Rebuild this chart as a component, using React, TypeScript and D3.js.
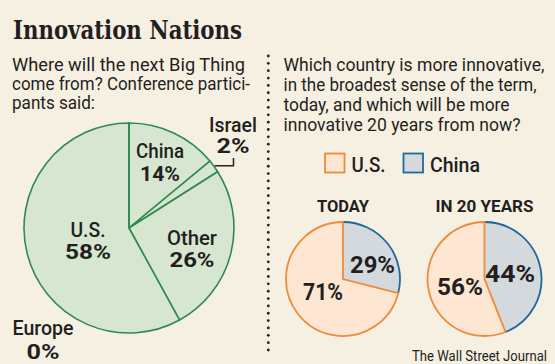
import React from 'react'
import * as d3 from 'd3'

// survey: where will the next big thing come from
const nextCategories = ['China', 'Israel', 'Other', 'U.S.', 'Europe']
const nextValues = [14, 2, 26, 58, 0]

// which country is more innovative
const compareCountries = ['China', 'U.S.']
const todayValues = [29, 71]
const in20Values = [44, 56]
const panelTitles = ['TODAY', 'IN 20 YEARS']

const W = 555
const H = 364
const bg = '#f6f0e3'
const ink = '#231f20'
const sans = "Roboto, 'Open Sans', 'Liberation Sans', sans-serif"

const green = { fill: '#d6e6d0', stroke: '#2f8a4f' }
const countryColor: Record<string, { fill: string; stroke: string }> = {
  'U.S.': { fill: '#fde7d2', stroke: '#f08a3a' },
  China: { fill: '#d4d9dd', stroke: '#1f6a9b' },
}

// label placement for the big pie (center x, baselines), relative to pie center
const bigLabels: Record<string, { dx: number; y1: number; y2: number; w1: number; w2: number }> = {
  China: { dx: 31, y1: -70, y2: -47, w1: 48, w2: 40 },
  Israel: { dx: 104, y1: -96, y2: -75, w1: 48, w2: 33 },
  Other: { dx: 63, y1: 17, y2: 39, w1: 50, w2: 45 },
  'U.S.': { dx: -41, y1: 9, y2: 31, w1: 35, w2: 46 },
  Europe: { dx: -86, y1: 107, y2: 131, w1: 61, w2: 33 },
}

function T(props: any) {
  const { x, y, w, size, weight, anchor, fam, children } = props
  return (
    <text
      x={x}
      y={y}
      fontSize={size}
      fontWeight={weight || 400}
      fontFamily={fam || sans}
      fill={ink}
      textAnchor={anchor || 'start'}
      textLength={w}
      lengthAdjust="spacingAndGlyphs"
    >
      {children}
    </text>
  )
}

function SmallPie(props: { cx: number; cy: number; values: number[]; title: string; titleW: number; labelPos: number[][] }) {
  const { cx, cy, values, title, titleW, labelPos } = props
  const r = 57
  const pie = d3.pie<number>().sort(null).value((d) => d)
  const arcs = pie(values)
  const arc = d3.arc<d3.PieArcDatum<number>>().innerRadius(0).outerRadius(r)
  const rim = d3.arc<d3.PieArcDatum<number>>().innerRadius(r).outerRadius(r)
  return (
    <g>
      <T x={cx} y={cy - 67} w={titleW} size={17} weight={700} anchor="middle">{title}</T>
      <g transform={`translate(${cx},${cy})`}>
        {/* china wedge first, then U.S. on top so the radial lines are orange */}
        <path d={arc(arcs[0]) as string} fill={countryColor.China.fill} stroke="none" />
        <path d={rim(arcs[0]) as string} fill="none" stroke={countryColor.China.stroke} strokeWidth={1.8} />
        <path d={arc(arcs[1]) as string} fill={countryColor['U.S.'].fill} stroke={countryColor['U.S.'].stroke} strokeWidth={1.8} />
      </g>
      {arcs.map((a, i) => (
        <T key={i} x={cx + labelPos[i][0]} y={cy + labelPos[i][1]} w={labelPos[i][2]} size={23} weight={700} anchor="middle">
          {a.data + '%'}
        </T>
      ))}
    </g>
  )
}

export default function App() {
  const cx = 129
  const cy = 228
  const R = 105
  const pie = d3.pie<number>().sort(null).value((d) => d)
  const arcs = pie(nextValues)
  const arc = d3.arc<d3.PieArcDatum<number>>().innerRadius(0).outerRadius(R)

  // leader for Israel from the slice edge
  const isr = arcs[nextCategories.indexOf('Israel')]
  const mid = (isr.startAngle + isr.endAngle) / 2
  const ex = cx + Math.sin(mid) * (R + 1)
  const ey = cy - Math.cos(mid) * (R + 1)

  const dots = d3.range(56, 352, 7.35)

  return (
    <svg width={W} height={H} style={{ position: 'absolute', left: 0, top: 0, background: bg }}>
      <rect width={W} height={H} fill={bg} />

      <text x={13} y={39} fontSize={26} fontWeight={700} fontFamily="'DejaVu Serif', 'Liberation Serif', serif"
        fill={ink} textLength={229} lengthAdjust="spacingAndGlyphs">Innovation Nations</text>

      <T x={12} y={71} w={233} size={18}>Where will the next Big Thing</T>
      <T x={12} y={90} w={238} size={18}>come from? Conference partici-</T>
      <T x={12} y={109} w={83} size={18}>pants said:</T>

      {dots.map((d, i) => (
        <circle key={i} cx={268.3} cy={d} r={1.4} fill={ink} />
      ))}

      <g transform={`translate(${cx},${cy})`}>
        {arcs.map((a, i) => (
          <path key={i} d={arc(a) as string} fill={green.fill} stroke={green.stroke} strokeWidth={1.6} strokeLinejoin="round" />
        ))}
      </g>
      <path d={`M${ex},${ey}H233.5V158`} fill="none" stroke={ink} strokeWidth={1.5} />

      {arcs.map((a, i) => {
        const name = nextCategories[i]
        const p = bigLabels[name]
        return (
          <g key={name}>
            <T x={cx + p.dx} y={cy + p.y1} w={p.w1} size={20} weight={500} anchor="middle">{name}</T>
            <T x={cx + p.dx} y={cy + p.y2} w={p.w2} size={21} weight={700} anchor="middle">{a.data + '%'}</T>
          </g>
        )
      })}

      <T x={283.5} y={71} w={261} size={18}>Which country is more innovative,</T>
      <T x={283.5} y={91} w={253} size={18}>in the broadest sense of the term,</T>
      <T x={283.5} y={111} w={226} size={18}>today, and which will be more</T>
      <T x={283.5} y={131} w={237} size={18}>innovative 20 years from now?</T>

      {/* legend */}
      {['U.S.', 'China'].map((c, i) => {
        const x0 = i === 0 ? 325 : 403.5
        return (
          <g key={c}>
            <rect x={x0} y={153.5} width={19.5} height={19} fill={countryColor[c].fill} stroke={countryColor[c].stroke} strokeWidth={1.8} />
            <T x={x0 + 26.5} y={172} w={i === 0 ? 34 : 50} size={21} weight={500}>{c}</T>
          </g>
        )
      })}

      <SmallPie cx={343} cy={279} values={todayValues} title={panelTitles[0]} titleW={52}
        labelPos={[[29.5, -6, 45], [-20, 21, 40]]} />
      <SmallPie cx={484.5} cy={279} values={in20Values} title={panelTitles[1]} titleW={98}
        labelPos={[[25.5, 2.5, 50], [-24.5, 16, 46]]} />

      <T x={412} y={361} w={135} size={14.5} fam="'Liberation Sans Narrow', 'Roboto', sans-serif">The Wall Street Journal</T>
    </svg>
  )
}
